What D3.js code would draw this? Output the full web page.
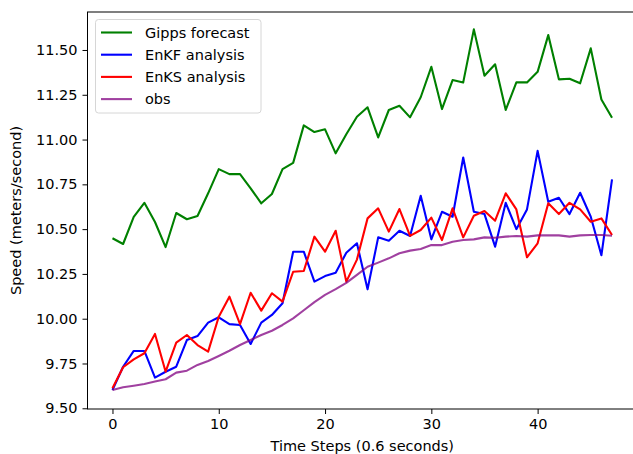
<!DOCTYPE html>
<html>
<head>
<meta charset="utf-8">
<script src="https://cdn.jsdelivr.net/npm/d3@7"></script>
<style>
  body { margin: 0; background: #fff; }
  svg text { font-family: "DejaVu Sans", sans-serif; }
</style>
</head>
<body>
<div id="chart"></div>
<script>
// time steps 0..47
var steps = d3.range(48);

var gipps = [10.449, 10.417, 10.569, 10.647, 10.54, 10.40, 10.59, 10.555, 10.573, 10.70,
  10.835, 10.807, 10.807, 10.728, 10.644, 10.696, 10.835, 10.87, 11.079, 11.042,
  11.057, 10.923, 11.03, 11.127, 11.18, 11.012, 11.165, 11.189, 11.124, 11.236,
  11.406, 11.17, 11.332, 11.319, 11.615, 11.356, 11.42, 11.165, 11.319, 11.319,
  11.378, 11.583, 11.336, 11.339, 11.314, 11.509, 11.224, 11.122];

var enkf = [9.602, 9.732, 9.82, 9.82, 9.671, 9.704, 9.732, 9.881, 9.903, 9.978,
  10.008, 9.97, 9.965, 9.859, 9.978, 10.021, 10.086, 10.374, 10.374, 10.207,
  10.238, 10.257, 10.368, 10.421, 10.164, 10.454, 10.435, 10.491, 10.462, 10.686,
  10.443, 10.597, 10.569, 10.90, 10.597, 10.584, 10.402, 10.647, 10.50, 10.61,
  10.937, 10.653, 10.675, 10.584, 10.703, 10.569, 10.354, 10.778];

var enks = [9.612, 9.729, 9.773, 9.807, 9.915, 9.704, 9.866, 9.909, 9.853, 9.816,
  10.011, 10.123, 9.97, 10.145, 10.045, 10.142, 10.095, 10.262, 10.266, 10.458,
  10.374, 10.491, 10.207, 10.33, 10.56, 10.616, 10.486, 10.612, 10.462, 10.495,
  10.564, 10.439, 10.616, 10.454, 10.575, 10.601, 10.547, 10.70, 10.61, 10.343,
  10.421, 10.644, 10.584, 10.647, 10.61, 10.541, 10.56, 10.467];

var obs = [9.602, 9.617, 9.626, 9.636, 9.649, 9.662, 9.699, 9.71, 9.742, 9.764,
  9.792, 9.821, 9.853, 9.881, 9.909, 9.933, 9.965, 10.002, 10.047, 10.093,
  10.133, 10.165, 10.2, 10.245, 10.29, 10.313, 10.337, 10.365, 10.38, 10.389,
  10.411, 10.411, 10.43, 10.439, 10.443, 10.454, 10.452, 10.458, 10.462, 10.458,
  10.465, 10.465, 10.465, 10.458, 10.465, 10.467, 10.467, 10.463];

var seriesNames = ["Gipps forecast", "EnKF analysis", "EnKS analysis", "obs"];
var seriesColors = ["green", "blue", "red", "purple"];
var xTicks = [0, 10, 20, 30, 40];
var yTicks = [9.50, 9.75, 10.00, 10.25, 10.50, 10.75, 11.00, 11.25, 11.50];

var width = 633, height = 454;
var plotL = 87.5, plotR = 637, plotT = 12, plotB = 409;

var svg = d3.select("#chart").append("svg")
  .attr("width", width)
  .attr("height", height);

var x = d3.scaleLinear().domain([-2.35, 49.35]).range([plotL, plotR]);
var y = d3.scaleLinear().domain([9.496, 11.712]).range([plotB, plotT]);

var data = [gipps, enkf, enks, obs];

// lines
var line = d3.line()
  .x(function(d, i) { return x(steps[i]); })
  .y(function(d) { return y(d); });

svg.append("defs").append("clipPath").attr("id", "clip")
  .append("rect")
  .attr("x", plotL).attr("y", plotT)
  .attr("width", plotR - plotL).attr("height", plotB - plotT);

var plot = svg.append("g").attr("clip-path", "url(#clip)");
data.forEach(function(vals, k) {
  plot.append("path")
    .datum(vals)
    .attr("fill", "none")
    .attr("stroke", seriesColors[k])
    .attr("stroke-opacity", k == 3 ? 0.75 : 1)
    .attr("stroke-width", 2.1)
    .attr("stroke-linejoin", "round")
    .attr("d", line);
});

// axes
var xAxis = d3.axisBottom(x).tickValues(xTicks).tickSize(5).tickPadding(5)
  .tickFormat(d3.format("d"));
var yAxis = d3.axisLeft(y).tickValues(yTicks).tickSize(5).tickPadding(5)
  .tickFormat(d3.format(".2f"));

var gx = svg.append("g").attr("transform", "translate(0," + plotB + ")").call(xAxis);
var gy = svg.append("g").attr("transform", "translate(" + plotL + ",0)").call(yAxis);
[gx, gy].forEach(function(g) {
  g.select(".domain").remove();
  g.selectAll("line").attr("stroke", "#000").attr("stroke-width", 1);
  g.selectAll("text").attr("fill", "#000").style("font-size", "14.5px");
});

// spines
svg.append("rect")
  .attr("x", plotL).attr("y", plotT)
  .attr("width", plotR - plotL).attr("height", plotB - plotT)
  .attr("fill", "none")
  .attr("stroke", "#000")
  .attr("stroke-width", 1);

// axis labels
svg.append("text")
  .attr("x", (plotL + plotR) / 2)
  .attr("y", 451)
  .attr("text-anchor", "middle")
  .style("font-size", "14.5px")
  .text("Time Steps (0.6 seconds)");

svg.append("text")
  .attr("transform", "translate(21," + ((plotT + plotB) / 2) + ") rotate(-90)")
  .attr("text-anchor", "middle")
  .style("font-size", "14.5px")
  .text("Speed (meters/second)");

// legend
var legend = svg.append("g");
legend.append("rect")
  .attr("x", 95.5).attr("y", 19.5)
  .attr("width", 165.5).attr("height", 93.5)
  .attr("rx", 3)
  .attr("fill", "#fff").attr("fill-opacity", 0.8)
  .attr("stroke", "#d6d6d6");

seriesNames.forEach(function(name, k) {
  var ly = 32.5 + k * 22.2;
  legend.append("line")
    .attr("x1", 101).attr("x2", 132)
    .attr("y1", ly).attr("y2", ly)
    .attr("stroke", seriesColors[k])
    .attr("stroke-opacity", k == 3 ? 0.75 : 1)
    .attr("stroke-width", 2.1);
  legend.append("text")
    .attr("x", 145).attr("y", ly)
    .attr("dy", "0.35em")
    .style("font-size", "14.5px")
    .text(name);
});
</script>
</body>
</html>
